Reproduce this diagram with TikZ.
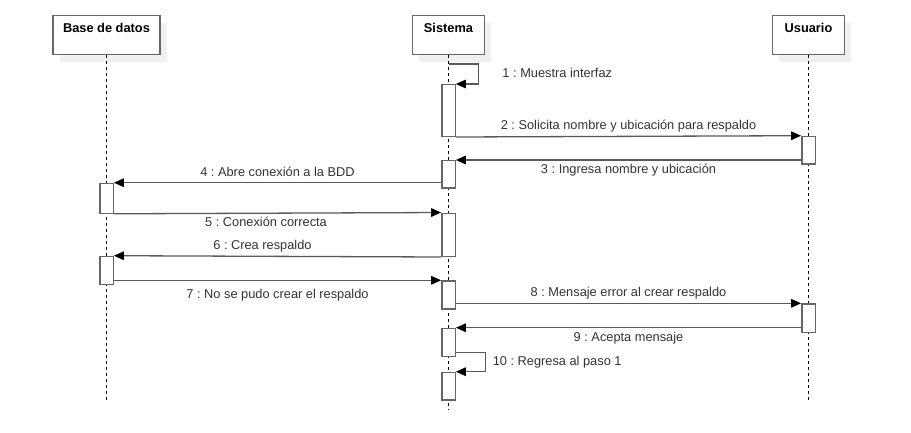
\documentclass[tikz,border=0pt]{standalone}
\usepackage{fontspec}
\setmainfont{Liberation Sans}
\usetikzlibrary{arrows.meta,positioning,shadows}
\tikzset{
     head/.style={draw=black!60, line width=1.3pt, fill=white, font=\bfseries\fontsize{12.8}{15}\selectfont,
        minimum width=71.6pt, inner ysep=6pt, text height=11pt, text depth=16pt,
        drop shadow={shadow xshift=6.5pt, shadow yshift=-8pt, fill=black!6, opacity=1}},
      lifeline/.style = {black, line width=1pt, dash pattern=on 3pt off 3pt},
      act/.style = {draw=black!60, line width=1.3pt, fill=white, minimum width=13.3pt, inner sep=0pt, anchor=north},
      msg/.style = {black!65, line width=1.3pt, ->, >={Triangle[length=10pt,width=8.5pt,color=black]}},
      msglabel/.style = {font=\fontsize{12.8}{15}\selectfont, text=black!80, text height=9.5pt, text depth=2.7pt},
    }
\frenchspacing

\begin{document}
\begin{tikzpicture}[x=1pt, y=-1pt, semithick]
        \useasboundingbox (0,0) rectangle (911,432);

        % lifeline heads
        \node [head, minimum width=107pt] (bd) at (106.5,34.8) {Base de datos};
        \node [head] (sis) at (448.5,34.8) {Sistema};
        \node [head] (usr) at (808.5,34.8) {Usuario};

        \coordinate (bdend)  at (106.5,400);
        \coordinate (sisend) at (448.5,410);
        \coordinate (usrend) at (808.5,400);
        \draw [lifeline] (bd.south)  -- (bdend);
        \draw [lifeline] (sis.south) -- (sisend);
        \draw [lifeline] (usr.south) -- (usrend);

        % activations
        \node [act, minimum height=51.7pt] (s1) at (448.5,84)    {};
        \node [act, minimum height=27.3pt] (s2) at (448.5,160)   {};
        \node [act, minimum height=43.2pt] (s3) at (448.5,212.5) {};
        \node [act, minimum height=28pt]   (s4) at (448.5,280.3) {};
        \node [act, minimum height=28pt]   (s5) at (448.5,327.7) {};
        \node [act, minimum height=27.6pt] (s6) at (448.5,371.7) {};
        \node [act, minimum height=27.6pt] (u1) at (808.5,135.7) {};
        \node [act, minimum height=28.4pt] (u2) at (808.5,303.3) {};
        \node [act, minimum height=29.8pt] (b1) at (106.5,182.7) {};
        \node [act, minimum height=28.3pt] (b2) at (106.5,255.7) {};

        % messages
        \draw [msg] ([yshift=-9pt]sis.south) -- ++(30,0) |- (s1.north east)
            node [msglabel, pos=0.25, right=20pt] (m1) {1 : Muestra interfaz};
        \draw [msg] (s1.south east) -- (u1.north west)
            node [msglabel, midway, above] (m2) {2 : Solicita nombre y ubicación para respaldo};
        \draw [msg] (u1.west |- s2.north) -- (s2.north east)
            node [msglabel, midway, below] (m3) {3 : Ingresa nombre y ubicación};
        \draw [msg] (s2.west |- b1.north) -- (b1.north east)
            node [msglabel, midway, above] (m4) {4 : Abre conexión a la BDD};
        \draw [msg] (b1.south east) -- (s3.north west)
            node [msglabel, pos=0.465, below] (m5) {5 : Conexión correcta};
        \draw [msg] (s3.south west) -- (b2.north east)
            node [msglabel, pos=0.546, above] (m6) {6 : Crea respaldo};
        \draw [msg] (b2.east |- s4.north) -- (s4.north west)
            node [msglabel, midway, below=5pt] (m7) {7 : No se pudo crear el respaldo};
        \draw [msg] (s4.east |- u2.north) -- (u2.north west)
            node [msglabel, midway, above] (m8) {8 : Mensaje error al crear respaldo};
        \draw [msg] (u2.west |- s5.north) -- (s5.north east)
            node [msglabel, midway, below] (m9) {9 : Acepta mensaje};
        \draw [msg] ([yshift=4.7pt]s5.south east) -- ++(30,0) |- (s6.north east)
            node [msglabel, pos=0.25, right=3pt] (m10) {10 : Regresa al paso 1};
    \end{tikzpicture}
\end{document}
